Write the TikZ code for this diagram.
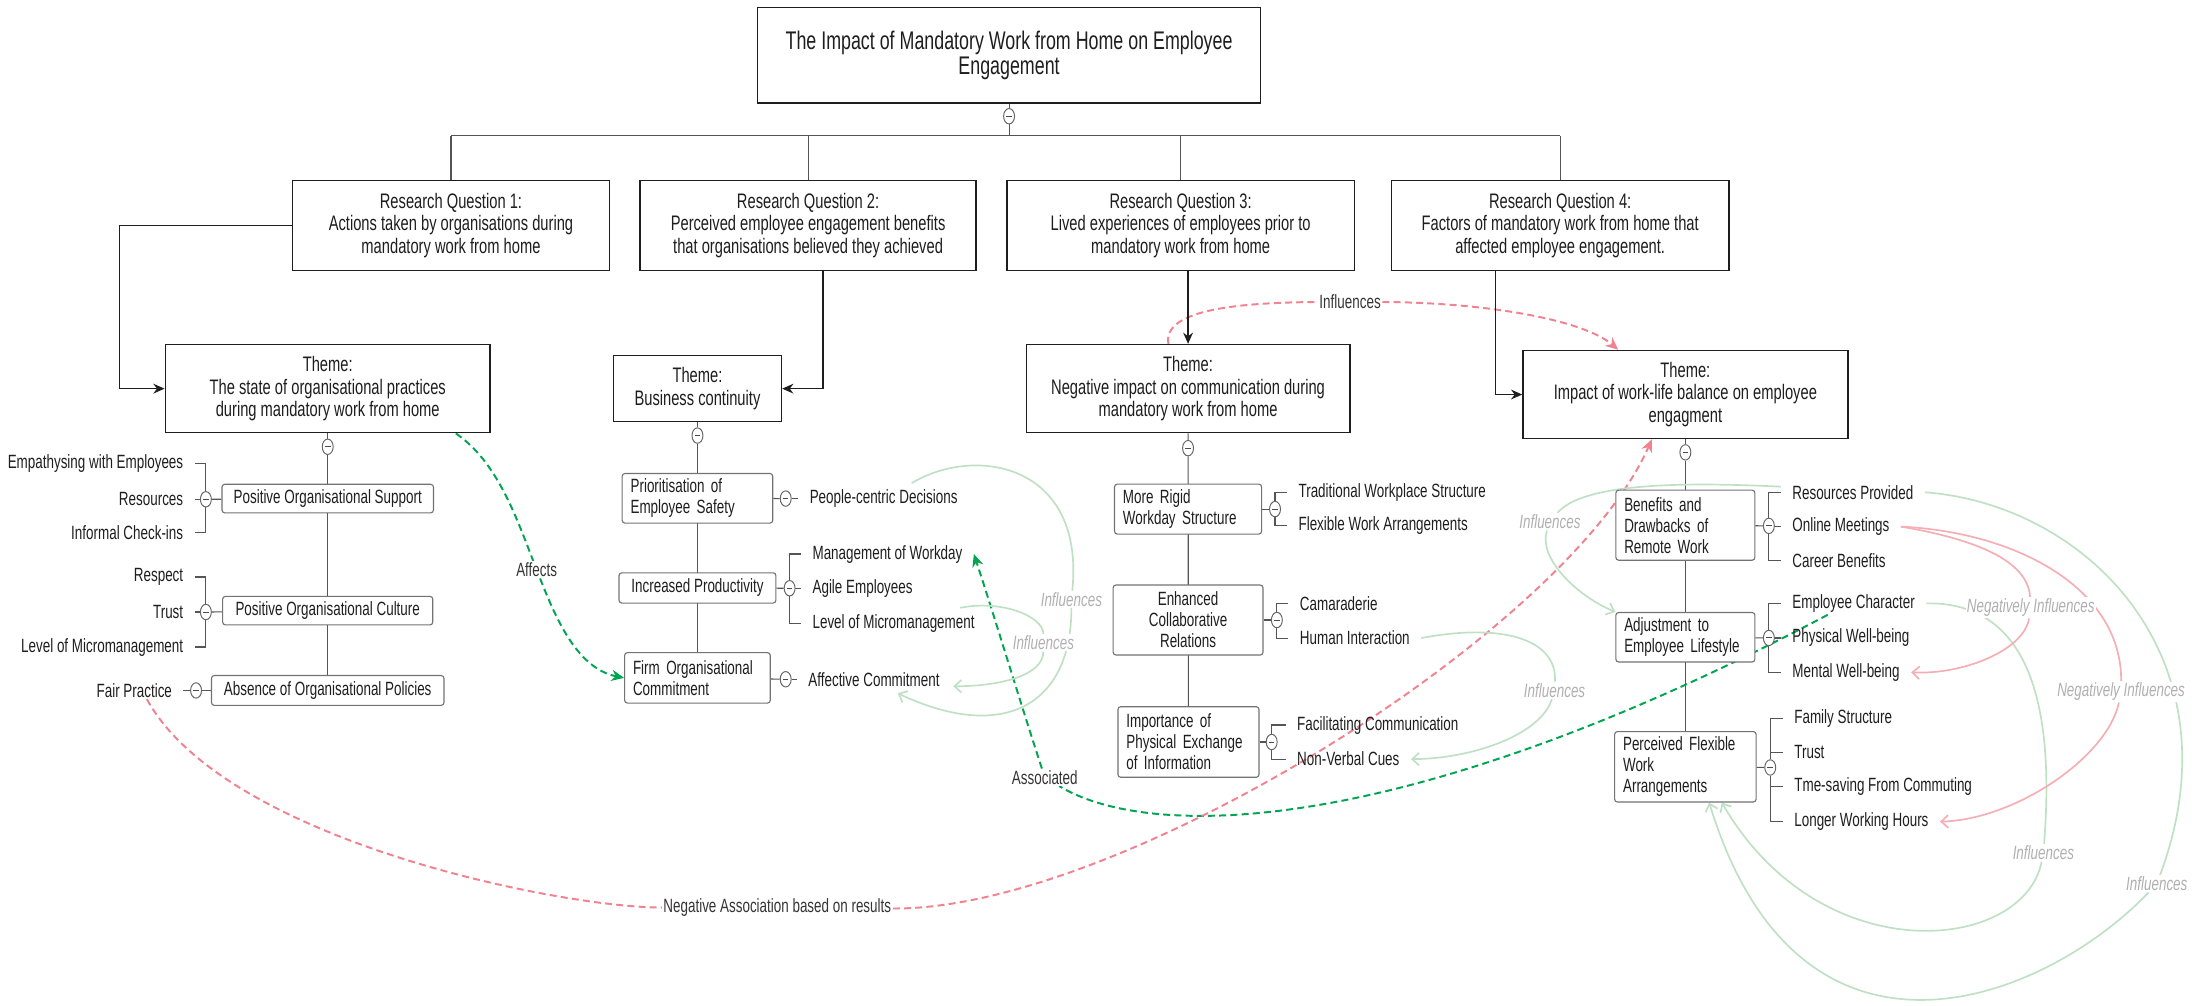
\documentclass[tikz,border=0pt]{standalone}
\usepackage{fontspec}
\setmainfont{Liberation Sans}[FakeStretch=0.7]
\usepackage{xcolor}
\usepackage{tikz}
\usetikzlibrary{arrows.meta, positioning, shapes.geometric, backgrounds}
\pgfdeclarelayer{links}
\pgfsetlayers{background,links,main}

\definecolor{ink}{HTML}{1E1E1E}
\definecolor{treeline}{HTML}{555555}
\definecolor{assocgreen}{HTML}{00A551}
\definecolor{negpink}{HTML}{F0838F}
\definecolor{palegreen}{HTML}{C0E0C4}
\definecolor{palepink}{HTML}{F4AEB4}
\definecolor{lblgray}{HTML}{B0B0B0}

\tikzset{
  titlebox/.style={draw=ink, line width=1pt, fill=white, align=center, text=ink,
    font=\fontsize{18.2}{18}\selectfont},
  rqbox/.style={draw=ink, line width=1pt, fill=white, align=center, text=ink,
    font=\fontsize{15}{16}\selectfont},
  subbox/.style={draw=black!55, line width=0.8pt, rounded corners=2pt, fill=white, text=ink,
    font=\fontsize{13.7}{15}\selectfont, inner xsep=6pt},
  leaf/.style={text=ink, font=\fontsize{13.7}{15}\selectfont, inner xsep=8pt, inner ysep=1pt},
  fold/.style={ellipse, draw=black!60, fill=white, line width=0.7pt,
    minimum width=7.8pt, minimum height=11pt, inner sep=0pt,
    path picture={\draw[black!70, line width=0.7pt]
      ([xshift=-2pt]path picture bounding box.center) -- ([xshift=2pt]path picture bounding box.center);}},
  tree/.style={draw=treeline, line width=0.8pt},
  flow/.style={draw=ink, line width=1pt, -{Stealth[length=8pt, width=7pt]}},
  affect/.style={draw=assocgreen, line width=1.4pt, dash pattern=on 5pt off 3pt},
  negative/.style={draw=negpink, line width=1.4pt, dash pattern=on 5pt off 3pt},
  tip/.style={-{Stealth[length=9pt, width=8pt]}},
  influence/.style={draw=palegreen, line width=1.2pt},
  neginfluence/.style={draw=palepink, line width=1.2pt},
  openhead/.style={-{Straight Barb[length=5pt, width=9pt]}},
  darklbl/.style={fill=white, text=ink!90, inner sep=1pt, font=\fontsize{13.7}{15}\selectfont},
  palelbl/.style={fill=white, text=lblgray, inner sep=1pt, font=\fontsize{13.7}{15}\selectfont\itshape},
}

\begin{document}
\begin{tikzpicture}[x=1pt, y=-1pt]
  \useasboundingbox (0,0) rectangle (1568,718);
  % Title, research questions and themes:
  \node[titlebox, minimum width=359pt, minimum height=68pt](top) at (720.5, 39.5){The Impact of Mandatory Work from Home on Employee\\Engagement};
  \node[fold](c0) at (720.5, 83){};
  \coordinate (bus) at (720.5, 97);
  \node[rqbox, minimum width=226pt, minimum height=64pt](Q1) at (322, 161){Research Question 1:\\Actions taken by organisations during\\mandatory work from home};
  \node[rqbox, minimum width=240pt, minimum height=64pt](Q2) at (577, 161){Research Question 2:\\Perceived employee engagement benefits\\that organisations believed they achieved};
  \node[rqbox, minimum width=248pt, minimum height=64pt](Q3) at (843, 161){Research Question 3:\\Lived experiences of employees prior to\\mandatory work from home};
  \node[rqbox, minimum width=241pt, minimum height=64pt](Q4) at (1114, 161){Research Question 4:\\Factors of mandatory work from home that\\affected employee engagement.};
  \node[rqbox, minimum width=232pt, minimum height=63pt](T1) at (234, 277.5){Theme:\\The state of organisational practices\\during mandatory work from home};
  \node[rqbox, minimum width=120pt, minimum height=47pt](T2) at (498, 277.5){Theme:\\Business continuity};
  \node[rqbox, minimum width=231pt, minimum height=63pt](T3) at (848.3, 277.5){Theme:\\Negative impact on communication during\\mandatory work from home};
  \node[rqbox, minimum width=232pt, minimum height=63pt](T4) at (1203.4, 281.7){Theme:\\Impact of work-life balance on employee\\engagment};
  \node[fold](c1) at (234, 319){};
  \node[fold](c2) at (498, 311){};
  \node[fold](c3) at (848.3, 320){};
  \node[fold](c4) at (1203.4, 323){};

  % Theme 1 branch
  \node[subbox, minimum width=151pt, minimum height=20.4pt](S11) at (234, 356){Positive Organisational Support};
  \node[subbox, minimum width=150pt, minimum height=20.4pt](S12) at (234, 436){Positive Organisational Culture};
  \node[subbox, minimum width=166pt, minimum height=21.3pt](S13) at (234, 493){Absence of Organisational Policies};
  \node[fold](c11) at (147, 356.5){};
  \node[fold](c12) at (147, 437){};
  \node[fold](c13) at (140, 493){};
  \node[leaf, anchor=east](L111) at (139, 331){Empathysing with Employees};
  \node[leaf, anchor=east](L112) at (139, 356.5){Resources};
  \node[leaf, anchor=east](L113) at (139, 380.5){Informal Check-ins};
  \node[leaf, anchor=east](L121) at (139, 412){Respect};
  \node[leaf, anchor=east](L122) at (139, 437){Trust};
  \node[leaf, anchor=east](L123) at (139, 462){Level of Micromanagement};
  \node[leaf, anchor=east](L131) at (131, 493){Fair Practice};

  % Theme 2 branch
  \node[subbox, align=left, text width=95.5pt, minimum height=35.5pt](S21) at (498, 355.8){Prioritisation of\\Employee Safety};
  \node[subbox, minimum width=112pt, minimum height=21.6pt](S22) at (498, 419.8){Increased Productivity};
  \node[subbox, align=left, text width=92pt, minimum height=36pt](S23) at (498, 484){Firm Organisational\\Commitment};
  \node[fold](c21) at (561, 356){};
  \node[fold](c22) at (563.8, 420){};
  \node[fold](c23) at (561, 485){};
  \node[leaf, anchor=west](L211) at (570, 356){People-centric Decisions};
  \node[leaf, anchor=west](L221) at (572, 395.6){Management of Workday};
  \node[leaf, anchor=west](L222) at (572, 420){Agile Employees};
  \node[leaf, anchor=west](L223) at (572, 445){Level of Micromanagement};
  \node[leaf, anchor=west](L231) at (569, 485){Affective Commitment};

  % Theme 3 branch
  \node[subbox, align=left, text width=93pt, minimum height=35.7pt](S31) at (848.3, 363.5){More Rigid\\Workday Structure};
  \node[subbox, align=center, minimum width=107pt, minimum height=50pt](S32) at (848.3, 442.7){Enhanced\\Collaborative\\Relations};
  \node[subbox, align=left, text width=88.7pt, minimum height=50.4pt](S33) at (848.6, 529.8){Importance of\\Physical Exchange\\of Information};
  \node[fold](c31) at (910.4, 363.5){};
  \node[fold](c32) at (911.7, 442.7){};
  \node[fold](c33) at (908, 529.8){};
  \node[leaf, anchor=west](L311) at (919, 351.5){Traditional Workplace Structure};
  \node[leaf, anchor=west](L312) at (919, 375){Flexible Work Arrangements};
  \node[leaf, anchor=west](L321) at (920, 431){Camaraderie};
  \node[leaf, anchor=west](L322) at (920, 455.6){Human Interaction};
  \node[leaf, anchor=west](L331) at (918, 517.7){Facilitating Communication};
  \node[leaf, anchor=west](L332) at (918, 542){Non-Verbal Cues};

  % Theme 4 branch
  \node[subbox, align=left, text width=87.3pt, minimum height=50pt](S41) at (1203.4, 375){Benefits and\\Drawbacks of\\Remote Work};
  \node[subbox, align=left, text width=87.3pt, minimum height=35.3pt](S42) at (1203.4, 455){Adjustment to\\Employee Lifestyle};
  \node[subbox, align=left, text width=89pt, minimum height=50.3pt](S43) at (1203.4, 547.5){Perceived Flexible\\Work\\Arrangements};
  \node[fold](c41) at (1263, 375.5){};
  \node[fold](c42) at (1263, 455.5){};
  \node[fold](c43) at (1264, 548){};
  \node[leaf, anchor=west](L411) at (1271.6, 351.5){Resources Provided};
  \node[leaf, anchor=west](L412) at (1271.6, 376){Online Meetings};
  \node[leaf, anchor=west](L413) at (1271.6, 400.5){Career Benefits};
  \node[leaf, anchor=west](L421) at (1271.6, 430.8){Employee Character};
  \node[leaf, anchor=west](L422) at (1271.6, 455.5){Physical Well-being};
  \node[leaf, anchor=west](L423) at (1271.6, 480){Mental Well-being};
  \node[leaf, anchor=west](L431) at (1273, 512.8){Family Structure};
  \node[leaf, anchor=west](L432) at (1273, 537){Trust};
  \node[leaf, anchor=west](L433) at (1273, 561.7){Tme-saving From Commuting};
  \node[leaf, anchor=west](L434) at (1273, 586.7){Longer Working Hours};

  % Link labels
  \node[darklbl](affects) at (383.2, 406.8){Affects};
  \node[darklbl](assoc) at (746, 555){Associated};
  \node[darklbl](negassoc) at (555, 648){Negative Association based on results};
  \node[darklbl](infl) at (964, 215.5){Influences};
  \node[palelbl](ia) at (765, 428){Influences};
  \node[palelbl](ib) at (745, 459){Influences};
  \node[palelbl](ic) at (1110, 493){Influences};
  \node[palelbl](id) at (1106.7, 372.5){Influences};
  \node[palelbl](ie) at (1540, 631){Influences};
  \node[palelbl](if) at (1459, 609){Influences};
  \node[palelbl](ig) at (1450, 434){Negatively Influences};
  \node[palelbl](ih) at (1514.5, 494){Negatively Influences};

  % Tree wiring
  \begin{scope}[on background layer]
    \draw[tree] (top) -- (c0) -- (c0 |- bus);
    \draw[tree] (Q1.north |- bus) -- (Q4.north |- bus);
    \foreach \q in {Q1,Q2,Q3,Q4} \draw[tree] (\q.north |- bus) -- (\q.north);
    \draw[tree] (T1) -- (c1) -- (S13);
    \draw[tree] (T2) -- (c2) -- (S23);
    \draw[tree] (T3) -- (c3) -- (S33);
    \draw[tree] (T4) -- (c4) -- (S43);
    \foreach \s in {11,12,13,21,22,23,31,32,33,41,42,43} \draw[tree] (S\s) -- (c\s);
    \foreach \l in {111,112,113} \draw[tree] (c11) |- (L\l);
    \foreach \l in {121,122,123} \draw[tree] (c12) |- (L\l);
    \draw[tree] (c13) -- (L131);
    \draw[tree] (c21) -- (L211);
    \foreach \l in {221,222,223} \draw[tree] (c22) |- (L\l);
    \draw[tree] (c23) -- (L231);
    \foreach \l in {311,312} \draw[tree] (c31) |- (L\l);
    \foreach \l in {321,322} \draw[tree] (c32) |- (L\l);
    \foreach \l in {331,332} \draw[tree] (c33) |- (L\l);
    \foreach \l in {411,412,413} \draw[tree] (c41) |- (L\l);
    \foreach \l in {421,422,423} \draw[tree] (c42) |- (L\l);
    \foreach \l in {431,432,433,434} \draw[tree] (c43) |- (L\l);
  \end{scope}

  % Question to theme arrows
  \draw[flow] (Q1.west) -- ++(-123,0) |- (T1.west);
  \draw[flow] ([xshift=10.5pt]Q2.south) |- (T2.east);
  \draw[flow] (T3.north |- Q3.south) -- (T3.north);
  \draw[flow] ([xshift=-46pt]Q4.south) |- (T4.west);

  % Cross links
  \coordinate (A0) at ([xshift=-25pt]T1.south east);
  \coordinate (B0) at (1305, 439);
  \coordinate (IA0) at (651, 345);
  \coordinate (IA1) at (641, 495);
  \coordinate (IB0) at (685.6, 434);
  \coordinate (IB1) at (680.6, 490);
  \begin{pgfonlayer}{links}
    \draw[affect] (A0) .. controls (355, 329.5) and (368.8, 369.8) .. (affects);
    \draw[affect, tip] (affects) .. controls (397.7, 443.8) and (412.9, 477.5) .. (S23.west);
    \draw[affect] (B0) .. controls (1000, 600) and (820, 600) .. (assoc);
    \draw[affect, tip] (assoc) .. controls (728, 500) and (710, 440) .. (L221.east);
    \draw[negative] ([xshift=9pt]L131.south) .. controls (160, 600) and (400, 648) .. (negassoc);
    \draw[negative, tip] (negassoc) .. controls (800, 650) and (1120, 450) .. ([xshift=-24pt]T4.south);
    \draw[negative] ([xshift=-14pt]T3.north) .. controls (830, 222) and (880, 216) .. (infl);
    \draw[negative, tip] (infl) .. controls (1060, 216) and (1130, 228) .. ([xshift=-48pt]T4.north);

    \draw[influence] (IA0) .. controls (695, 318) and (775, 330) .. (ia);
    \draw[influence, openhead] (ia) .. controls (765, 505) and (715, 530) .. (IA1);
    \draw[influence] (IB0) .. controls (715, 428) and (745, 440) .. (ib);
    \draw[influence, openhead] (ib) .. controls (745, 482) and (715, 490) .. (IB1);
    \draw[influence] (L322.east) .. controls (1070, 445) and (1112, 455) .. (ic);
    \draw[influence, openhead] (ic) .. controls (1100, 525) and (1050, 542) .. (L332.east);
    \draw[influence] ([yshift=4pt]L411.west) .. controls (1200, 344) and (1130, 345) .. (id);
    \draw[influence, openhead] (id) .. controls (1098, 398) and (1125, 425) .. (S42.north west);
    \draw[influence] (L411.east) .. controls (1490, 360) and (1600, 470) .. (ie);
    \draw[influence, openhead] (ie) .. controls (1460, 715) and (1285, 785) .. ([xshift=17pt]S43.south);
    \draw[influence] (L421.east) .. controls (1430, 430) and (1470, 470) .. (if);
    \draw[influence, openhead] (if) .. controls (1445, 680) and (1300, 695) .. ([xshift=26pt]S43.south);

    \draw[neginfluence] (L412.east) .. controls (1410, 385) and (1448, 400) .. (ig);
    \draw[neginfluence, openhead] (ig) .. controls (1445, 465) and (1400, 482) .. (L423.east);
    \draw[neginfluence] (L412.east) .. controls (1440, 380) and (1515, 420) .. (ih);
    \draw[neginfluence, openhead] (ih) .. controls (1505, 540) and (1440, 585) .. (L434.east);
  \end{pgfonlayer}
\end{tikzpicture}
\end{document}
